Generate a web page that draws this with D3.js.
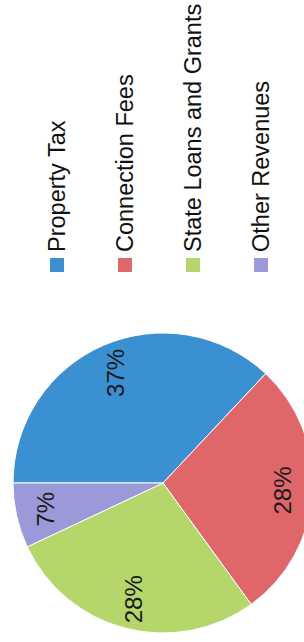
<!DOCTYPE html>
<meta charset="utf-8">
<html>
<script src="https://d3js.org/d3.v7.min.js"></script>
<style>
  body { margin: 0; background: #fff; }
</style>
<body>
<div id="chart"></div>
<script>

// data
var categories = ["Property Tax", "Connection Fees", "State Loans and Grants", "Other Revenues"];
var values = [37, 28, 28, 7];
var labels = ["37%", "28%", "28%", "7%"];
var colors = ["#3b90d2", "#e06769", "#b4d66b", "#9b99d8"];

// page is 304 x 642, chart is drawn lying on its side (rotated -90)
var W = 304, H = 642;
var cw = H, ch = W;   // unrotated chart size

var svg = d3.select("#chart").append("svg")
    .attr("width", W)
    .attr("height", H);

var g = svg.append("g")
    .attr("transform", "translate(0," + H + ") rotate(-90)");

var radius = 150;
var cx = 159, cy = 163;

var color = d3.scaleOrdinal().domain(categories).range(colors);

var pie = d3.pie().sort(null).value(function(d, i) { return values[i]; });
var arcs = pie(categories);

var arc = d3.arc().innerRadius(0).outerRadius(radius);
var labelArc = d3.arc().innerRadius(radius * 0.8).outerRadius(radius * 0.8);

var pg = g.append("g").attr("transform", "translate(" + cx + "," + cy + ")");

pg.selectAll("path")
  .data(arcs)
  .enter().append("path")
    .attr("d", arc)
    .attr("fill", function(d) { return color(d.data); })
    .attr("stroke", "#ffffff")
    .attr("stroke-width", 1);

pg.selectAll("text")
  .data(arcs)
  .enter().append("text")
    .attr("transform", function(d) { return "translate(" + labelArc.centroid(d) + ")"; })
    .attr("text-anchor", "middle")
    .attr("dy", "0.35em")
    .style("font-family", "Liberation Sans, Arial, sans-serif")
    .style("font-size", "24px")
    .attr("fill", "#1a1a1a")
    .text(function(d, i) { return labels[i]; });

// legend
var legendY = d3.scalePoint().domain(categories).range([57, 261]);

var legend = g.selectAll(".legend")
  .data(categories)
  .enter().append("g")
    .attr("class", "legend")
    .attr("transform", function(d) { return "translate(370," + legendY(d) + ")"; });

legend.append("rect")
    .attr("x", 0)
    .attr("y", -7)
    .attr("width", 14)
    .attr("height", 14)
    .attr("fill", function(d) { return color(d); });

legend.append("text")
    .attr("x", 20)
    .attr("y", 8)
    .style("font-family", "Liberation Sans, Arial, sans-serif")
    .style("font-size", "23.5px")
    .attr("fill", "#111")
    .text(function(d) { return d; });

</script>
</body>
</html>
